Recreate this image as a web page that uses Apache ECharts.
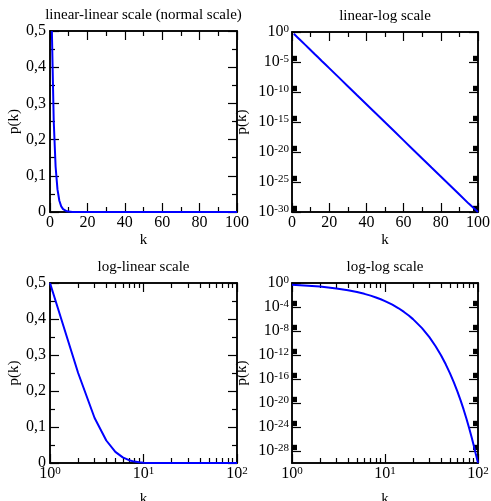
<!DOCTYPE html>
<html>
<head>
<meta charset="utf-8">
<script src="https://cdn.jsdelivr.net/npm/echarts@6/dist/echarts.min.js"></script>
<style>
  html, body { margin: 0; padding: 0; background: #fff; }
  #main { width: 491px; height: 501px; }
</style>
</head>
<body>
<div id="main"></div>
<script>
// values: p(k) against k
var kVals = [1, 2, 3, 4, 5, 6, 7, 8, 9, 10, 12, 14, 16, 18, 20, 25, 30, 35, 40, 45, 50, 55, 60, 65, 70, 75, 80, 85, 90, 95, 100];
var pVals = [0.5, 0.25, 0.125, 0.0625, 0.031, 0.0156, 0.0078, 0.0039, 0.00195, 0.00098, 2.4e-4, 6.1e-5, 1.5e-5, 3.8e-6, 9.5e-7,
             3.0e-8, 9.3e-10, 2.9e-11, 9.1e-13, 2.8e-14, 8.9e-16, 2.8e-17, 8.7e-19, 2.7e-20, 8.5e-22, 2.6e-23, 8.3e-25,
             2.6e-26, 8.1e-28, 2.5e-29, 1e-30];

var titles = ['linear-linear scale (normal scale)', 'linear-log scale', 'log-linear scale', 'log-log scale'];

// tick values
var linXTicks = [0, 20, 40, 60, 80, 100];
var linXMinor = [10, 30, 50, 70, 90];
var linYTicks = [0, 0.1, 0.2, 0.3, 0.4, 0.5];
var linYMinor = [0.05, 0.15, 0.25, 0.35, 0.45];
var logXTicks = [1, 10, 100];
var logY1Ticks = [1e-30, 1e-25, 1e-20, 1e-15, 1e-10, 1e-5, 1];
var logY2Ticks = [1e-28, 1e-24, 1e-20, 1e-16, 1e-12, 1e-8, 1e-4, 1];

function logMinor(majors, max) {
    var out = [];
    majors.forEach(function (m) {
        for (var i = 2; i <= 9; i++) {
            if (m * i < max) out.push(m * i);
        }
    });
    return out;
}

var FONT = 'Liberation Serif';

var linFmt = function (v) { return String(v).replace('.', ','); };
var logFmt = function (v) {
    var e = Math.round(Math.log10(v));
    return '{b|10}{s|' + e + '}';
};
var logRich = {
    b: { fontFamily: FONT, fontSize: 16, color: '#000', lineHeight: 16, padding: [5, 0, 0, 0], verticalAlign: 'bottom' },
    s: { fontFamily: FONT, fontSize: 11, color: '#000', lineHeight: 11, verticalAlign: 'top' }
};

var linX = { type: 'value', min: 0, max: 100, major: linXTicks, minor: linXMinor, fmt: linFmt, name: 'k', nameGap: 21, margin: 3 };
var logX = { type: 'log', min: 1, max: 100, major: logXTicks, minor: logMinor(logXTicks, 100), fmt: logFmt, rich: logRich,
             name: 'k', nameGap: 29, margin: 11, vAlign: 'middle' };
var linY = { type: 'value', min: 0, max: 0.5, major: linYTicks, minor: linYMinor, fmt: linFmt, name: 'p(k)', nameGap: 28, margin: 4 };
var logY1 = { type: 'log', min: 1e-30, max: 1, major: logY1Ticks, minor: logMinor(logY1Ticks, 1), fmt: logFmt, rich: logRich,
              name: 'p(k)', nameGap: 42, margin: 3 };
var logY2 = { type: 'log', min: 1e-30, max: 1, major: logY2Ticks, minor: logMinor(logY2Ticks, 1), fmt: logFmt, rich: logRich,
              name: 'p(k)', nameGap: 42, margin: 3 };

var plots = [
    { left: 50, top: 31, w: 187, h: 181, x: linX, y: linY, title: titles[0] },
    { left: 292, top: 32, w: 186, h: 180, x: linX, y: logY1, title: titles[1] },
    { left: 50, top: 283, w: 187, h: 180, x: logX, y: linY, title: titles[2] },
    { left: 292, top: 283, w: 186, h: 180, x: logX, y: logY2, title: titles[3] }
];

var grids = [], xAxes = [], yAxes = [], series = [], titleList = [];

function makeAxis(spec, gridIndex, pos, main, ticks, len) {
    var ax = {
        type: spec.type,
        gridIndex: gridIndex,
        position: pos,
        min: spec.min,
        max: spec.max,
        axisLine: { show: true, onZero: false, lineStyle: { color: '#000', width: 1.5 } },
        axisTick: { show: true, inside: true, length: len, customValues: ticks, lineStyle: { color: '#000', width: 1.2 } },
        axisLabel: { show: false },
        splitLine: { show: false },
        minorTick: { show: false },
        minorSplitLine: { show: false }
    };
    if (spec.type === 'log') ax.logBase = 10;
    if (main) {
        ax.axisLabel = {
            show: true,
            customValues: spec.major,
            formatter: spec.fmt,
            fontFamily: FONT,
            fontSize: 16,
            color: '#000',
            margin: spec.margin,
            rich: spec.rich
        };
        if (spec.vAlign) ax.axisLabel.verticalAlign = spec.vAlign;
        ax.name = spec.name;
        ax.nameLocation = 'middle';
        ax.nameGap = spec.nameGap;
        ax.nameTextStyle = { fontFamily: FONT, fontSize: 15, color: '#000' };
    }
    return ax;
}

function makeGrid(p) {
    // outerBoundsMode none: keep every grid exactly where it is put
    return { left: p.left, top: p.top, width: p.w, height: p.h, containLabel: false, outerBoundsMode: 'none' };
}

plots.forEach(function (p, i) {
    var g = grids.length;
    grids.push(makeGrid(p));
    grids.push(makeGrid(p));   // second grid only carries the minor ticks

    var xi = xAxes.length;
    xAxes.push(makeAxis(p.x, g, 'bottom', true, p.x.major, 9));
    xAxes.push(makeAxis(p.x, g, 'top', false, p.x.major, 9));
    xAxes.push(makeAxis(p.x, g + 1, 'bottom', false, p.x.minor, 5));
    xAxes.push(makeAxis(p.x, g + 1, 'top', false, p.x.minor, 5));

    var yi = yAxes.length;
    yAxes.push(makeAxis(p.y, g, 'left', true, p.y.major, 9));
    yAxes.push(makeAxis(p.y, g, 'right', false, p.y.major, 9));
    yAxes.push(makeAxis(p.y, g + 1, 'left', false, p.y.minor, 5));
    yAxes.push(makeAxis(p.y, g + 1, 'right', false, p.y.minor, 5));

    series.push({
        type: 'line',
        xAxisIndex: xi,
        yAxisIndex: yi,
        data: kVals.map(function (k, j) { return [k, pVals[j]]; }),
        showSymbol: false,
        clip: true,
        lineStyle: { color: '#0000ff', width: 2 },
        itemStyle: { color: '#0000ff' }
    });

    titleList.push({
        text: p.title,
        left: p.left + p.w / 2,
        top: p.top - 23,
        padding: 0,
        textAlign: 'center',
        textStyle: { fontFamily: FONT, fontSize: 15, fontWeight: 'normal', color: '#000' }
    });
});

var chart = echarts.init(document.getElementById('main'));
chart.setOption({
    animation: false,
    backgroundColor: '#fff',
    title: titleList,
    grid: grids,
    xAxis: xAxes,
    yAxis: yAxes,
    series: series
});
</script>
</body>
</html>
